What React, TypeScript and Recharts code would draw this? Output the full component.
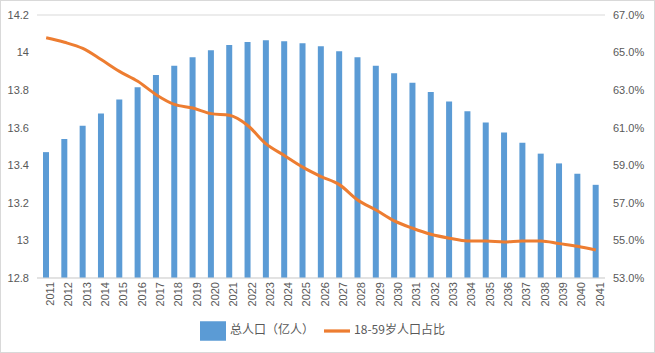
import {
  ComposedChart,
  Bar,
  Line,
  XAxis,
  YAxis,
  CartesianGrid,
  Legend,
} from "recharts";

const YEARS = [
  "2011", "2012", "2013", "2014", "2015", "2016", "2017", "2018", "2019", "2020",
  "2021", "2022", "2023", "2024", "2025", "2026", "2027", "2028", "2029", "2030",
  "2031", "2032", "2033", "2034", "2035", "2036", "2037", "2038", "2039", "2040",
  "2041",
];

// 总人口（亿人）
const POPULATION = [
  13.47, 13.54, 13.61, 13.676, 13.75, 13.815, 13.88, 13.93, 13.975, 14.013,
  14.04, 14.056, 14.066, 14.06, 14.05, 14.034, 14.007, 13.975, 13.93, 13.89,
  13.84, 13.79, 13.74, 13.687, 13.628, 13.574, 13.52, 13.462, 13.41, 13.355,
  13.296,
];

// 18-59岁人口占比 (%)
const WORKING_SHARE = [
  65.79, 65.55, 65.22, 64.63, 64.0, 63.47, 62.76, 62.24, 62.05, 61.75,
  61.66, 61.12, 60.14, 59.52, 58.9, 58.4, 57.97, 57.15, 56.62, 56.04,
  55.65, 55.33, 55.12, 54.97, 54.97, 54.92, 54.97, 54.97, 54.83, 54.69,
  54.49,
];

const LEFT_TICKS = [12.8, 13, 13.2, 13.4, 13.6, 13.8, 14, 14.2];
const RIGHT_TICKS = [53, 55, 57, 59, 61, 63, 65, 67];

const data = YEARS.map((year, i) => ({
  year,
  pop: POPULATION[i],
  share: WORKING_SHARE[i],
}));

const tickStyle = { fontSize: 11, fill: "#595959", fontFamily: "Liberation Sans, sans-serif" };

export default function App() {
  return (
    <div
      style={{
        position: "absolute",
        left: 0,
        top: 0,
        width: 653,
        height: 351,
        border: "1px solid #d9d9d9",
        background: "#fff",
      }}
    >
      <ComposedChart
        width={653}
        height={351}
        data={data}
        margin={{ top: 14, right: 0, left: 0, bottom: 0 }}
      >
        <CartesianGrid vertical={false} stroke="#d9d9d9" />
        <XAxis
          dataKey="year"
          interval={0}
          angle={-90}
          textAnchor="end"
          tick={{ ...tickStyle, dy: -4 }}
          tickLine={false}
          axisLine={{ stroke: "#d9d9d9" }}
          height={40}
        />
        <YAxis
          yAxisId="left"
          domain={[12.8, 14.2]}
          ticks={LEFT_TICKS}
          tickFormatter={(v) => String(v)}
          tick={tickStyle}
          tickLine={false}
          axisLine={false}
          width={36}
        />
        <YAxis
          yAxisId="right"
          orientation="right"
          domain={[53, 67]}
          ticks={RIGHT_TICKS}
          tickFormatter={(v) => `${Number(v).toFixed(1)}%`}
          tick={{ ...tickStyle, textAnchor: "start" }}
          tickLine={false}
          axisLine={false}
          width={49}
        />
        <Legend
          verticalAlign="bottom"
          height={34}
          iconSize={26}
          itemSorter="dataKey"
          formatter={(value) => <span style={{ color: "#595959" }}>{value}</span>}
          wrapperStyle={{ fontSize: 12, fontFamily: "Noto Sans CJK SC, sans-serif" }}
        />
        <Bar
          yAxisId="left"
          dataKey="pop"
          name="总人口（亿人）"
          fill="#5b9bd5"
          barSize={6}
          legendType="rect"
          isAnimationActive={false}
        />
        <Line
          yAxisId="right"
          dataKey="share"
          name="18-59岁人口占比"
          type="monotone"
          stroke="#ed7d31"
          strokeWidth={3}
          dot={false}
          legendType="plainline"
          isAnimationActive={false}
        />
      </ComposedChart>
    </div>
  );
}
